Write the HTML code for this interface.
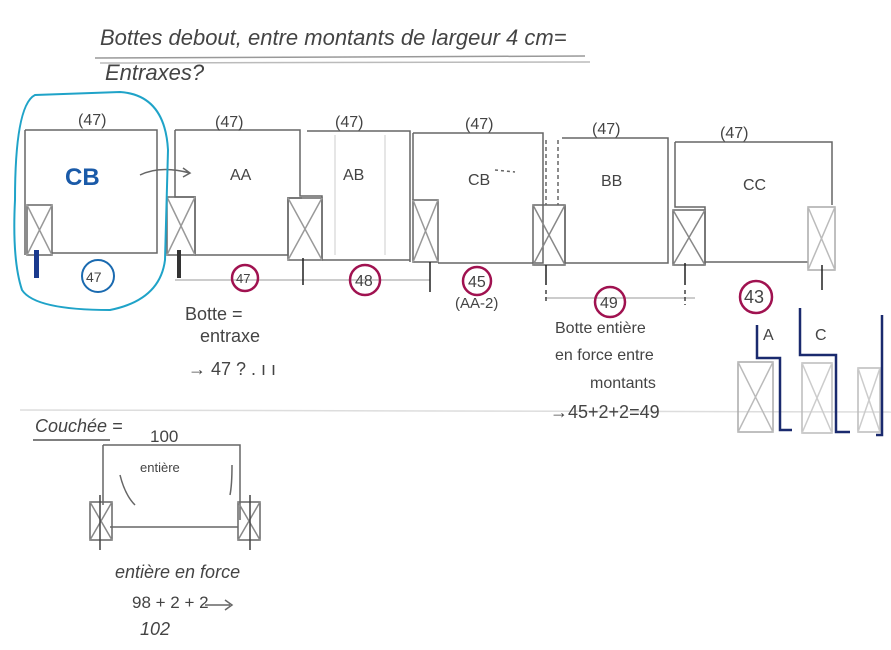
<!DOCTYPE html>
<html><head><style>
html,body{margin:0;padding:0;background:#fff;}
svg{display:block;}
text{font-family:"Liberation Sans",sans-serif;fill:#444;}
</style></head><body>
<svg width="891" height="650" viewBox="0 0 891 650" xmlns="http://www.w3.org/2000/svg">
<g stroke="#666" stroke-width="1.5" fill="none">
<!-- title lines -->
<line x1="95" y1="58" x2="585" y2="56" stroke="#999"/>
<line x1="100" y1="63" x2="590" y2="62" stroke="#bbb"/>
<line x1="20" y1="410" x2="891" y2="412" stroke="#ddd"/>
<!-- box 1 -->
<path d="M25 130 H157 V253 H52 M25 130 V255"/>
<rect x="27" y="205" width="25" height="50"/><path d="M27 205 L52 255 M52 205 L27 255" stroke="#999"/>
<!-- AA -->
<path d="M175 130 H300 V196 H322 V260 M175 130 V197 H195 V255 H288 V198 H302"/>
<rect x="167" y="197" width="28" height="58"/><path d="M167 197 L195 255 M195 197 L167 255" stroke="#999"/>
<rect x="288" y="198" width="34" height="62"/><path d="M288 198 L322 260 M322 198 L288 260" stroke="#999"/>
<!-- AB -->
<path d="M307 131 H410 V262 M322 260 H410"/>
<path d="M335 135 V255 M385 135 V255" stroke="#ddd"/>
<!-- CB -->
<path d="M413 133 H543 V263 H438 M413 133 V200"/>
<rect x="413" y="200" width="25" height="62"/><path d="M413 200 L438 262 M438 200 L413 262" stroke="#999"/>
<path d="M546 140 V205 M558 140 V205" stroke-dasharray="4 3"/>
<!-- BB -->
<path d="M562 138 H668 V263 H565 V205 M668 150 V263"/>
<rect x="533" y="205" width="32" height="60"/><path d="M533 205 L565 265 M565 205 L533 265" stroke="#888"/>
<!-- CC -->
<path d="M675 142 H832 V205 M675 142 V207 H705 V265 M705 262 H808"/>
<rect x="673" y="210" width="32" height="55"/><path d="M673 210 L705 265 M705 210 L673 265" stroke="#888"/>
<rect x="808" y="207" width="27" height="63" stroke="#aaa"/><path d="M808 207 L835 270 M835 207 L808 270" stroke="#bbb"/>
<!-- dimension lines -->
<path d="M175 280 H430 M545 298 H695" stroke="#bbb"/>
<path d="M303 258 V285 M430 262 V292 M546 265 V285 M685 263 V285 M822 265 V290" stroke="#222"/>
<path d="M546 290 V302 M685 290 V305" stroke="#444" stroke-dasharray="4 3"/>
<!-- arrow -->
<path d="M140 175 Q160 165 190 173 M183 168 L190 173 L183 177"/>
<path d="M495 170 L515 172" stroke-dasharray="3 3"/>
<!-- right side -->
<rect x="738" y="362" width="35" height="70" stroke="#aaa"/><path d="M738 362 L773 432 M773 362 L738 432" stroke="#bbb"/>
<rect x="802" y="363" width="30" height="70" stroke="#bbb"/><path d="M802 363 L832 433 M832 363 L802 433" stroke="#ccc"/>
<rect x="858" y="368" width="22" height="64" stroke="#bbb"/><path d="M858 368 L880 432 M880 368 L858 432" stroke="#ccc"/>
<path d="M757 325 V358 H780 V430 H792 M800 308 V355 H836 V432 H850 M882 315 V435 H876" stroke="#1a2a6e" stroke-width="2.5"/>
<!-- lower section -->
<line x1="33" y1="440" x2="110" y2="440" stroke="#555"/>
<path d="M103 445 H240 V520 M103 445 V505 M110 527 H238"/>
<path d="M120 475 Q125 495 135 505 M232 465 Q232 485 230 495"/>
<rect x="90" y="502" width="22" height="38"/><path d="M90 502 L112 540 M112 502 L90 540" stroke="#888"/>
<rect x="238" y="502" width="22" height="38"/><path d="M238 502 L260 540 M260 502 L238 540" stroke="#888"/>
<path d="M100 495 V550 M250 495 V550" stroke="#444"/>
<path d="M205 605 H230 M225 600 L232 605 L225 610"/>
</g>
<!-- teal outline -->
<path d="M35 95 Q15 105 15 200 Q12 260 22 290 Q35 310 110 310 Q160 300 165 260 L168 150 Q165 95 120 92 Z" fill="none" stroke="#1fa3c8" stroke-width="2"/>
<rect x="34" y="250" width="5" height="28" fill="#1a3a8e"/>
<rect x="177" y="250" width="4" height="28" fill="#333"/>
<circle cx="98" cy="276" r="16" fill="none" stroke="#1a6ab0" stroke-width="2"/>
<g fill="none" stroke="#a01250" stroke-width="2.5">
<circle cx="245" cy="278" r="13"/><circle cx="365" cy="280" r="15"/><circle cx="477" cy="281" r="14"/><circle cx="610" cy="302" r="15"/><circle cx="756" cy="297" r="16"/>
</g>
<text x="100" y="45" font-size="22" font-style="italic" fill="#555">Bottes debout, entre montants de largeur 4 cm=</text>
<text x="105" y="80" font-size="22" font-style="italic">Entraxes?</text>
<g font-size="16">
<text x="78" y="125">(47)</text><text x="215" y="127">(47)</text><text x="335" y="127">(47)</text><text x="465" y="129">(47)</text><text x="592" y="134">(47)</text><text x="720" y="138">(47)</text>
<text x="230" y="180">AA</text><text x="343" y="180">AB</text><text x="468" y="185">CB</text><text x="601" y="186">BB</text><text x="743" y="190">CC</text>
<text x="86" y="282" font-size="14" fill="#1a6ab0">47</text>
<text x="236" y="283" font-size="13">47</text><text x="355" y="286">48</text><text x="468" y="287">45</text><text x="600" y="308">49</text><text x="744" y="303" font-size="18">43</text>
<text x="455" y="308" font-size="15">(AA-2)</text>
<text x="185" y="320" font-size="18">Botte =</text><text x="200" y="342" font-size="18">entraxe</text><text x="188" y="375" font-size="18">→ 47 ? . ı ı</text>
<text x="555" y="333" font-size="16">Botte entière</text><text x="555" y="360" font-size="16">en force entre</text><text x="590" y="388" font-size="16">montants</text>
<text x="550" y="418" font-size="18">→45+2+2=49</text>
<text x="763" y="340">A</text><text x="815" y="340">C</text>
<text x="35" y="432" font-size="18" font-style="italic">Couchée =</text>
<text x="150" y="442" font-size="17">100</text>
<text x="140" y="472" font-size="13">entière</text>
<text x="115" y="578" font-size="18" font-style="italic">entière en force</text>
<text x="132" y="608" font-size="17">98 + 2 + 2</text>
<text x="140" y="635" font-size="18" font-style="italic">102</text>
</g>
<text x="65" y="185" font-size="24" font-weight="bold" fill="#1a5aa8" style="fill:#1a5aa8">CB</text>
</svg>
</body></html>
